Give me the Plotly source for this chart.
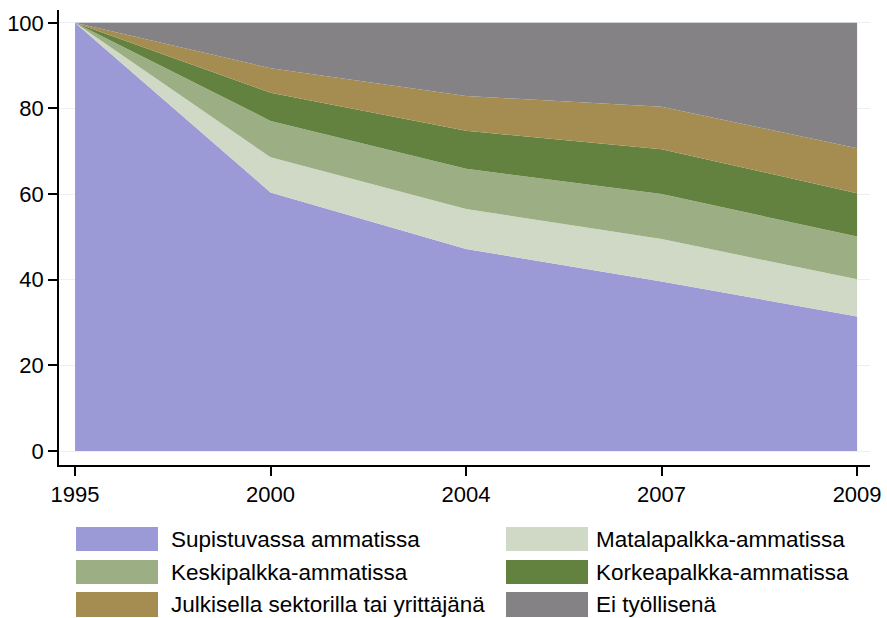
import plotly.graph_objects as go

years = ["1995", "2000", "2004", "2007", "2009"]
series_names = [
    "Supistuvassa ammatissa",
    "Matalapalkka-ammatissa",
    "Keskipalkka-ammatissa",
    "Korkeapalkka-ammatissa",
    "Julkisella sektorilla tai yrittäjänä",
    "Ei työllisenä",
]
supistuvassa = [100, 60.4, 47.2, 39.6, 31.4]
matalapalkka = [0, 8.2, 9.3, 9.9, 8.7]
keskipalkka = [0, 8.5, 9.4, 10.5, 10.0]
korkeapalkka = [0, 6.6, 8.9, 10.5, 10.1]
julkisella = [0, 5.7, 8.1, 9.9, 10.5]
ei_tyollisena = [0, 10.6, 17.1, 19.6, 29.3]
y_ticks = [0, 20, 40, 60, 80, 100]

values = [supistuvassa, matalapalkka, keskipalkka, korkeapalkka, julkisella, ei_tyollisena]
colors = ["#9b9ad6", "#d0d9c6", "#9caf84", "#63823f", "#a58c50", "#858285"]

FONT = "Liberation Sans, Arial, sans-serif"

fig = go.Figure()
for name, vals, col in zip(series_names, values, colors):
    fig.add_trace(go.Scatter(
        x=list(range(len(years))), y=vals, name=name, mode="lines",
        stackgroup="one", line=dict(width=0, color=col), fillcolor=col,
        showlegend=False, hoverinfo="skip",
    ))

# plot-area geometry in pixels (for the manual legend)
L, R, T, B = 59, 870, 10, 465
W, H = R - L, B - T

def px_x(px):
    return (px - L) / W

def px_y(py):
    return (B - py) / H

legend_cols = [(76, 158, 169), (506, 588, 594)]
legend_rows = [(527, 551), (560, 584), (592, 617)]
shapes = []
annotations = []
for i, (name, col) in enumerate(zip(series_names, colors)):
    r, c = divmod(i, 2)
    x0, x1, tx = legend_cols[c]
    y0, y1 = legend_rows[r]
    shapes.append(dict(type="rect", xref="paper", yref="paper",
                       x0=px_x(x0), x1=px_x(x1), y0=px_y(y1), y1=px_y(y0),
                       fillcolor=col, line=dict(width=0), layer="above"))
    annotations.append(dict(xref="paper", yref="paper", x=px_x(tx), y=px_y((y0 + y1) / 2),
                            text=name, showarrow=False, xanchor="left", yanchor="middle",
                            font=dict(family=FONT, size=22.5, color="black")))

fig.update_layout(
    width=887, height=618, autosize=False,
    margin=dict(l=L, r=887 - R, t=T, b=618 - B, pad=0, autoexpand=False),
    plot_bgcolor="white", paper_bgcolor="white",
    font=dict(family=FONT, size=22, color="black"),
    shapes=shapes, annotations=annotations,
    showlegend=False,
)
fig.update_xaxes(
    tickmode="array", tickvals=list(range(len(years))), ticktext=years,
    range=[-0.082, 4.066], showgrid=False, zeroline=False, automargin=False,
    showline=True, linecolor="black", linewidth=1.5,
    ticks="outside", ticklen=9, tickwidth=1.5, tickcolor="black",
    tickfont=dict(family=FONT, size=22, color="black"),
)
fig.update_yaxes(
    tickmode="array", tickvals=y_ticks, range=[-3.27, 103.0],
    showgrid=True, gridcolor="#eaf0f6", gridwidth=1, zeroline=False, automargin=False,
    showline=True, linecolor="black", linewidth=1.5,
    ticks="outside", ticklen=9, tickwidth=1.5, tickcolor="black",
    tickfont=dict(family=FONT, size=22, color="black"),
)
fig.write_html(
    "out.html",
    config={"displayModeBar": False, "responsive": False},
    post_script="document.body.style.margin='0';document.body.style.overflow='hidden';",
)
